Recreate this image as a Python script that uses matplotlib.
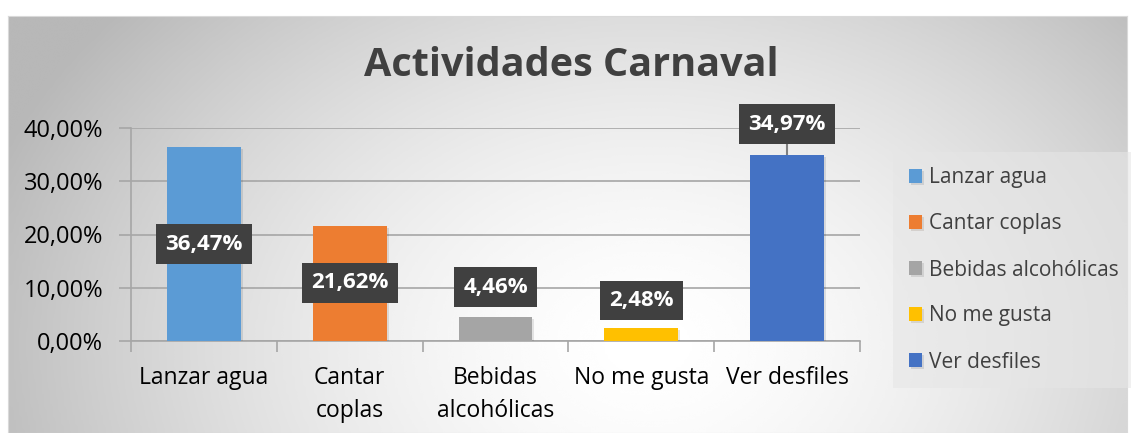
import matplotlib
matplotlib.use("Agg")
import matplotlib.pyplot as plt
import matplotlib.patheffects as pe
import numpy as np

categories = ["Lanzar agua", "Cantar coplas", "Bebidas alcohólicas", "No me gusta", "Ver desfiles"]
tick_labels = ["Lanzar agua", "Cantar\ncoplas", "Bebidas\nalcohólicas", "No me gusta", "Ver desfiles"]
values = [36.47, 21.62, 4.46, 2.48, 34.97]
colors = ["#5B9BD5", "#ED7D31", "#A5A5A5", "#FFC000", "#4472C4"]
# where each data label box sits (in % units), placed by hand in the original
label_pos = [18.2, 10.9, 10.1, 7.6, 40.75]
leader = [False, False, False, False, True]

plt.rcParams["font.family"] = ["Open Sans", "DejaVu Sans"]

W, H = 1131, 433
fig = plt.figure(figsize=(W / 100, H / 100), dpi=100)

# chart-area background: soft radial gradient, white centre, grey edges
bg = fig.add_axes([8 / W, 0, 1119 / W, 417 / H], zorder=0)
gx, gy = np.meshgrid(np.linspace(0, 1119, 400), np.linspace(0, 417, 160))
d = np.hypot((gx - 640) / 700, (gy - 330) / 520)
shade = np.clip(1.0 - 0.28 * d ** 1.6, 0.72, 1.0)
bg.imshow(shade, cmap="gray", vmin=0, vmax=1, aspect="auto", extent=[0, 1, 0, 1],
          interpolation="bicubic")
bg.set_xticks([])
bg.set_yticks([])
for s in bg.spines.values():
    s.set_color("#D9D9D9")

ax = fig.add_axes([131 / W, 1 - 341 / H, 729 / W, 213 / H], zorder=1)
ax.patch.set_alpha(0)
x = np.arange(len(values))
bars = ax.bar(x, values, width=0.505, color=colors, zorder=3,
              path_effects=[pe.SimplePatchShadow(offset=(1.5, -1.5), alpha=0.12), pe.Normal()])
ax.set_xlim(-0.5, len(values) - 0.5)
ax.set_ylim(0, 40)
ax.set_yticks([0, 10, 20, 30, 40])
ax.set_yticklabels([f"{v:.2f}%".replace(".", ",") for v in [0, 10, 20, 30, 40]],
                   fontsize=17, color="#000000")
ax.yaxis.grid(True, color="#A6A6A6", lw=1.2, zorder=0)
ax.tick_params(axis="y", length=9, color="#A6A6A6", width=1.2, pad=11)
ax.set_xticks(x)
ax.set_xticklabels(tick_labels, fontsize=16.5, linespacing=1.5)
ax.tick_params(axis="x", length=0, pad=18)
ax.set_xticks(np.arange(-0.5, len(values)), minor=True)
ax.tick_params(axis="x", which="minor", length=8, color="#A6A6A6", width=1.2)
for s in ["top", "right"]:
    ax.spines[s].set_visible(False)
for s in ["left", "bottom"]:
    ax.spines[s].set_color("#A6A6A6")
    ax.spines[s].set_linewidth(1.2)

for i, (v, ly) in enumerate(zip(values, label_pos)):
    if leader[i]:
        ax.plot([i, i], [v, ly], color="#7F7F7F", lw=1.5, zorder=2)
    ax.text(i, ly, f"{v:.2f}%".replace(".", ","), ha="center", va="center",
            fontsize=16, fontweight="bold", color="white", zorder=5,
            bbox=dict(boxstyle="square,pad=0.42", fc="#404040", ec="none"))

fig.text(571 / W, 1 - 66 / H, "Actividades Carnaval", ha="center", va="center",
         fontsize=28.5, fontweight="bold", color="#404040")

# legend panel
leg = ax.legend(handles=bars, labels=categories, loc="center left",
                bbox_to_anchor=(893 / W, 1 - 270 / H), bbox_transform=fig.transFigure,
                fontsize=15, frameon=True, fancybox=False, handlelength=0.65,
                handleheight=0.65, handletextpad=0.35, labelspacing=1.2,
                borderpad=0.75, borderaxespad=0, labelcolor="#404040")
leg.get_frame().set_facecolor("#E6E6E6")
leg.get_frame().set_edgecolor("none")
leg.get_frame().set_alpha(0.6)

fig.savefig("out.png", dpi=100)
